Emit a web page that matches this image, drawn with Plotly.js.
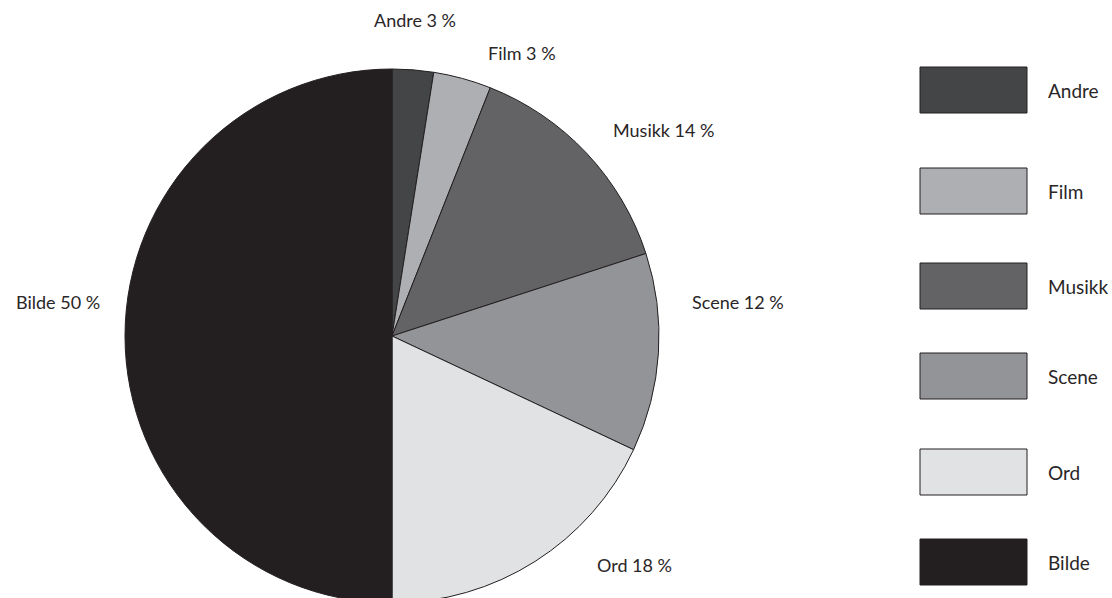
<!DOCTYPE html>
<html>
<head>
<meta charset="utf-8">
<script src="https://cdn.plot.ly/plotly-3.0.1.min.js"></script>
<style>
html, body { margin: 0; padding: 0; overflow: hidden; background: #fff; }
#chart { width: 1112px; height: 610px; }
</style>
</head>
<body>
<div id="chart"></div>
<script>
// Data
const categories = ["Andre", "Film", "Musikk", "Scene", "Ord", "Bilde"];
const shares = [2.5, 3.5, 14, 12, 18, 50];
const shareLabels = ["3 %", "3 %", "14 %", "12 %", "18 %", "50 %"];
const colors = ["#444547", "#aeafb2", "#636365", "#939497", "#e1e2e4", "#231f20"];

const W = 1112, H = 610;
const FONT = "Lato, 'Open Sans', sans-serif";
const px = x => x / W;
const py = y => (H - y) / H;

// Label positions (pixel centres) for outside labels
const labelPos = [[415, 20], [522, 53], [664, 130], [738, 302], [634, 565], [58, 302]];

// Legend layout
const legendTops = [67, 168, 263, 353, 449, 539];
const boxLeft = 920, boxRight = 1027, boxH = 46, textX = 1046;

const shapes = [];
const annotations = [];
categories.forEach((c, i) => {
  const t = legendTops[i];
  shapes.push({
    type: "rect", xref: "paper", yref: "paper",
    x0: px(boxLeft), x1: px(boxRight), y0: py(t + boxH), y1: py(t),
    fillcolor: colors[i], line: { color: "#231f20", width: 1 }
  });
  annotations.push({
    xref: "paper", yref: "paper", x: px(textX), y: py(t + boxH / 2),
    xanchor: "left", yanchor: "middle", showarrow: false,
    text: c, font: { family: FONT, size: 19, color: "#2a2627" }
  });
  annotations.push({
    xref: "paper", yref: "paper", x: px(labelPos[i][0]), y: py(labelPos[i][1]),
    xanchor: "center", yanchor: "middle", showarrow: false,
    text: c + " " + shareLabels[i], font: { family: FONT, size: 18, color: "#2a2627" }
  });
});

const trace = {
  type: "pie",
  labels: categories,
  values: shares,
  sort: false,
  direction: "clockwise",
  rotation: 0,
  textinfo: "none",
  hoverinfo: "label+percent",
  marker: { colors: colors, line: { color: "#231f20", width: 1 } },
  domain: { x: [px(125), px(659)], y: [py(603), py(69)] },
  showlegend: false
};

const layout = {
  width: W, height: H,
  margin: { l: 0, r: 0, t: 0, b: 0 },
  paper_bgcolor: "#ffffff",
  showlegend: false,
  shapes: shapes,
  annotations: annotations,
  font: { family: FONT }
};

Plotly.newPlot("chart", [trace], layout, { staticPlot: true, displayModeBar: false });
</script>
</body>
</html>
